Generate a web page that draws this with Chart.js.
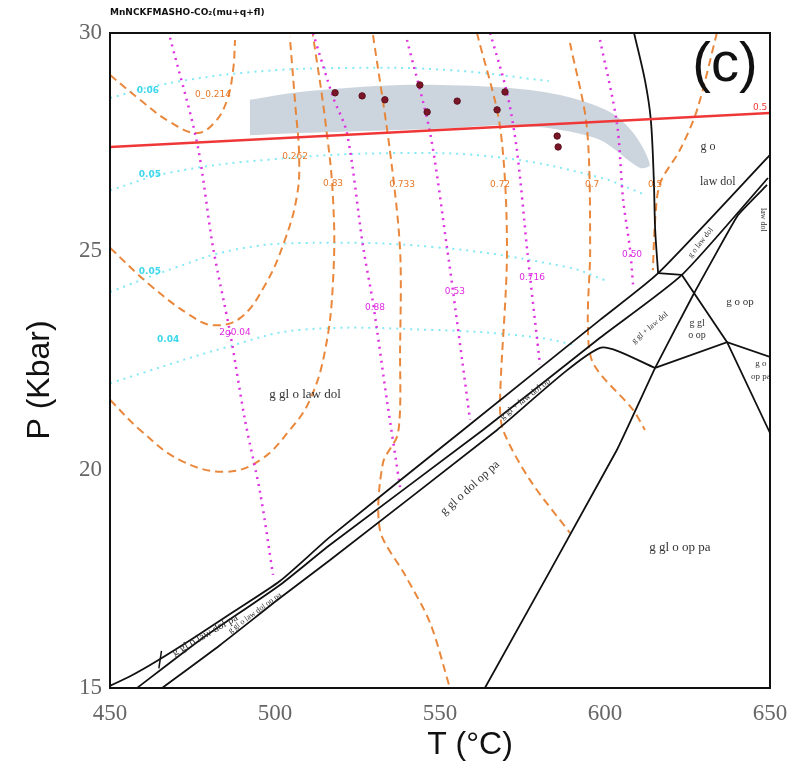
<!DOCTYPE html>
<html>
<head>
<meta charset="utf-8">
<script src="https://cdn.jsdelivr.net/npm/chart.js@4.4.1/dist/chart.umd.min.js"></script>
<style>
  html, body { margin: 0; padding: 0; background: #fff; }
  #wrap { width: 792px; height: 771px; }
</style>
</head>
<body>
<div id="wrap"><canvas id="pseudo"></canvas></div>
<script>
// axis ticks
const tempTicks = [450, 500, 550, 600, 650];
const presTicks = [15, 20, 25, 30];

// phase field boundaries [T degC, P kbar]
const bndVert   = [[608.8,30],[612.1,28.92],[613.9,28.0],[614.8,26.63],[615.2,25.5],[616.1,24.5]];
const bndUpper  = [[450,15.05],[456.1,15.27],[464.2,15.62],[475.8,16.17],[487.3,16.74],[501.5,17.45],[516.7,18.46],[557.0,20.91],[598.5,23.43],[616.1,24.5],[650,27.21]];
const bndMid    = [[458.2,15.0],[477.3,16.1],[501.5,17.36],[516.7,18.28],[563.0,20.91],[598.5,23.02],[623.3,24.46],[649.4,26.68]];
const bndLower  = [[465.8,15.0],[483.3,15.98],[501.5,17.06],[516.7,17.93],[567.3,20.91],[598.5,22.79],[615.2,22.33]];
const bndStep   = [[616.1,24.5],[623.3,24.46]];
const bndOp     = [[623.3,24.46],[637.0,22.92],[650,20.84]];
const bndNarrow = [[649.1,26.52],[640.3,25.83],[626.7,24.0],[615.2,22.33],[603.6,20.45],[563.6,15.0]];
const bndGl     = [[615.2,22.33],[637.0,22.92],[650,22.58]];
const bndTick   = [[464.8,15.45],[465.6,15.85]];

// orange dashed isopleths
const isoA = [[450,29.04],[459.1,28.47],[468.2,27.96],[476.4,27.71],[481.8,27.96],[485.5,28.47],[487.3,29.15],[487.9,29.84]];
const isoB = [[450,25.08],[462.1,24.23],[474.2,23.54],[481.2,23.31],[489.4,23.47],[497.0,24.23],[503.0,25.26],[506.7,26.29],[507.3,27.2],[506.2,28.3],[504.5,29.91]];
const isoC = [[450,21.6],[459.1,20.91],[471.2,20.22],[484.8,19.95],[495.5,20.22],[504.5,20.91],[510.6,21.6],[515.2,22.74],[517.6,24.34],[517.6,26.18],[515.2,28.01],[511.5,29.95]];
const isoD = [[529.7,29.95],[534.8,27.32],[537.9,25.04],[537.9,22.74],[537.3,20.84],[532.7,20.15],[531.8,18.62],[539.4,17.59],[547.0,16.49],[553.0,15.0]];
const isoE = [[561.2,30],[568.2,27.85],[570.3,25.04],[568.2,21.6],[569.1,20.91],[577.3,19.76],[589.4,18.55]];
const isoF = [[589.4,29.77],[594.5,27.85],[595.5,25.04],[594.8,23.36],[596.4,22.44],[608.5,21.37],[612.1,20.91]];
const isoG = [[633.9,30],[627.9,28.24],[622.7,27.32],[616.7,26.56],[615.2,25.72],[614.5,24.57]];

// magenta dotted isopleths
const mgA = [[468.2,29.89],[476.4,27.48],[481.2,25.10],[486.4,23.13],[490.9,21.14],[495.5,19.47],[499.4,17.59]];
const mgB = [[511.5,30],[517.6,28.53],[521.8,27.71],[526.7,25.10],[529.7,23.82],[533.9,21.6],[537.9,19.6]];
const mgC = [[540.0,29.84],[547.0,27.71],[552.1,25.10],[553.9,24.11],[556.7,22.51],[559.1,21.14]];
const mgD = [[565.2,30],[570.3,28.63],[573.3,27.32],[576.4,25.04],[577.3,24.41],[580.3,22.4]];
const mgE = [[598.5,29.84],[603.6,27.94],[605.5,26.18],[607.6,25.04],[608.5,24.23]];

// cyan dotted isopleths
const cyA = [[450,28.51],[465,28.81],[492,29.1],[522,29.2],[553,29.15],[583,28.9]];
const cyB = [[450,26.4],[468,26.8],[498,27.1],[537,27.25],[568,27.15],[598,26.7],[612,26.3]];
const cyC = [[450,24.07],[470.3,24.64],[487.3,25.03],[507.6,25.19],[547.9,25.10],[588.5,24.64],[600,24.34]];
const cyD = [[450,21.98],[485.5,22.81],[507.6,23.2],[547.9,23.2],[578.2,23.04],[590.9,22.86]];

// red T-P line
const redLine = [[450,27.39],[650,28.17]];

// grey P-T window
const greyBand = [[492.4,28.47],[507.6,28.65],[537.9,28.81],[568.2,28.76],[586.4,28.58],[601.5,28.19],[609.1,27.66],[613.6,26.98],
                  [610.6,26.91],[598.5,27.55],[583.3,27.82],[568.2,27.89],[553,27.82],[537.9,27.78],[507.6,27.71],[492.4,27.66]];

// measured P-T points
const sampleT = [518.2, 526.4, 533.3, 543.9, 546.1, 555.2, 567.3, 569.7, 585.5, 585.8];
const sampleP = [28.63, 28.56, 28.47, 28.81, 28.19, 28.44, 28.24, 28.65, 27.64, 27.39];

// labels: text, T, P, rotation, size
const fieldLabels = [
  ['g o', 631.2, 27.39, 0, 12], ['law dol', 634.2, 26.59, 0, 12],
  ['g gl o law dol', 509.1, 21.71, 0, 13],
  ['g gl o dol op pa', 559.1, 19.58, -42, 12],
  ['g gl o op pa', 622.7, 18.21, 0, 13],
  ['g o op', 640.9, 23.84, 0, 11],
  ['g gl', 627.9, 23.36, 0, 10], ['o op', 627.9, 23.08, 0, 10],
  ['g o', 647.2, 22.42, 0, 9], ['op pa', 647.2, 22.14, 0, 9],
  ['g gl o law dol pa', 478.8, 16.21, -30, 11],
  ['g gl o law dol op pa', 493.9, 16.72, -36, 8],
  ['g gl + law dol op', 575.8, 21.62, -38, 9],
  ['g gl + law dol', 613.6, 23.25, -40, 8],
  ['g o law dol', 629.0, 25.2, -52, 8],
  ['law dol', 648.0, 25.72, 90, 8]
];
const orangeLabels = [['0_0.214', 481.2, 28.58], ['0.262', 506.1, 27.16], ['0.83', 517.6, 26.56], ['0.733', 538.5, 26.52], ['0.72', 568.2, 26.52], ['0.7', 596.1, 26.52], ['0.5', 615.2, 26.52]];
const magentaLabels = [['2g0.04', 487.9, 23.13], ['0.88', 530.3, 23.70], ['0.53', 554.5, 24.07], ['0.716', 577.9, 24.39], ['0.50', 608.2, 24.92]];
const cyanLabels = [['0.06', 461.5, 28.69], ['0.05', 462.1, 26.75], ['0.05', 462.1, 24.53], ['0.04', 467.6, 22.97]];

const pts = arr => arr.map(p => ({ x: p[0], y: p[1] }));

function curve(arr, color, width, dash, tension, order) {
  return { data: pts(arr), showLine: true, borderColor: color, borderWidth: width, borderDash: dash,
           tension: tension, pointRadius: 0, fill: false, order: order };
}

const ORANGE = 'rgba(232,130,50,0.95)';
const MAGENTA = 'rgb(222,50,225)';
const CYAN = 'rgba(90,225,240,0.75)';
const BLACK = '#111';

const datasets = [
  { data: pts(greyBand), showLine: true, borderWidth: 0, borderColor: 'rgba(0,0,0,0)',
    backgroundColor: 'rgba(170,185,200,0.6)', fill: 'shape', pointRadius: 0, tension: 0.3, order: 20 },
  curve(cyA, CYAN, 2, [2, 5], 0.4, 15), curve(cyB, CYAN, 2, [2, 5], 0.4, 15),
  curve(cyC, CYAN, 2, [2, 5], 0.4, 15), curve(cyD, CYAN, 2, [2, 5], 0.4, 15),
  curve(isoA, ORANGE, 2, [8, 5], 0.4, 10), curve(isoB, ORANGE, 2, [8, 5], 0.4, 10),
  curve(isoC, ORANGE, 2, [8, 5], 0.4, 10), curve(isoD, ORANGE, 2, [8, 5], 0.3, 10),
  curve(isoE, ORANGE, 2, [8, 5], 0.3, 10), curve(isoF, ORANGE, 2, [8, 5], 0.3, 10),
  curve(isoG, ORANGE, 2, [8, 5], 0.3, 10),
  curve(mgA, MAGENTA, 2.5, [2, 5], 0.3, 9), curve(mgB, MAGENTA, 2.5, [2, 5], 0.3, 9),
  curve(mgC, MAGENTA, 2.5, [2, 5], 0.3, 9), curve(mgD, MAGENTA, 2.5, [2, 5], 0.3, 9),
  curve(mgE, MAGENTA, 2.5, [2, 5], 0.3, 9),
  curve(bndVert, BLACK, 1.8, [], 0.3, 5), curve(bndUpper, BLACK, 1.8, [], 0.2, 5),
  curve(bndMid, BLACK, 1.8, [], 0.2, 5), curve(bndLower, BLACK, 1.8, [], 0.2, 5),
  curve(bndStep, BLACK, 1.8, [], 0, 5), curve(bndOp, BLACK, 1.8, [], 0, 5),
  curve(bndNarrow, BLACK, 1.8, [], 0.1, 5), curve(bndGl, BLACK, 1.8, [], 0, 5),
  curve(bndTick, BLACK, 1.5, [], 0, 5),
  curve(redLine, 'rgb(240,55,55)', 2.5, [], 0, 3),
  { data: sampleT.map((t, i) => ({ x: t, y: sampleP[i] })), showLine: false, pointRadius: 3.2,
    pointBackgroundColor: '#7a1628', pointBorderColor: '#5a0f1c', order: 1 }
];

const annotate = {
  id: 'annotate',
  afterDatasetsDraw(chart) {
    const { ctx, chartArea: a, scales: { x, y } } = chart;
    ctx.save();
    const put = (text, t, p, rot, font, color) => {
      ctx.save();
      ctx.translate(x.getPixelForValue(t), y.getPixelForValue(p));
      ctx.rotate(rot * Math.PI / 180);
      ctx.font = font; ctx.fillStyle = color;
      ctx.textAlign = 'center'; ctx.textBaseline = 'middle';
      ctx.fillText(text, 0, 0);
      ctx.restore();
    };
    fieldLabels.forEach(l => put(l[0], l[1], l[2], l[3], l[4] + 'px "Liberation Serif"', '#333'));
    orangeLabels.forEach(l => put(l[0], l[1], l[2], 0, '9px "DejaVu Sans"', 'rgb(230,120,40)'));
    magentaLabels.forEach(l => put(l[0], l[1], l[2], 0, '9px "DejaVu Sans"', 'rgb(222,40,225)'));
    cyanLabels.forEach(l => put(l[0], l[1], l[2], 0, 'bold 9px "DejaVu Sans"', 'rgb(60,215,235)'));
    put('0.5', 647, 28.3, 0, '9px "DejaVu Sans"', 'rgb(240,55,55)');

    // frame
    ctx.strokeStyle = BLACK; ctx.lineWidth = 2;
    ctx.strokeRect(a.left, a.top, a.right - a.left, a.bottom - a.top);

    // panel letter and headings
    ctx.fillStyle = '#111'; ctx.textAlign = 'center'; ctx.textBaseline = 'middle';
    ctx.font = '56px "Liberation Sans"';
    ctx.fillText('(c)', 725, 66);
    ctx.textAlign = 'left';
    ctx.font = 'bold 9px "DejaVu Sans"';
    ctx.fillText('MnNCKFMASHO-CO\u2082(mu+q+fl)', 110, 13);
    ctx.font = '32px "Liberation Sans"'; ctx.textAlign = 'center';
    ctx.fillText('T (\u00B0C)', 470, 745);
    ctx.save();
    ctx.translate(40, 380); ctx.rotate(-Math.PI / 2);
    ctx.fillText('P (Kbar)', 0, 0);
    ctx.restore();
    ctx.restore();
  }
};

new Chart(document.getElementById('pseudo').getContext('2d'), {
  type: 'scatter',
  data: { datasets: datasets },
  options: {
    responsive: true,
    maintainAspectRatio: false,
    animation: false,
    layout: { padding: { left: 0, top: 33, right: 22, bottom: 0 } },
    plugins: { legend: { display: false }, tooltip: { enabled: false } },
    scales: {
      x: {
        type: 'linear', min: tempTicks[0], max: tempTicks[tempTicks.length - 1],
        afterBuildTicks: s => { s.ticks = tempTicks.map(v => ({ value: v })); },
        afterFit: s => { s.height = 83; s.paddingLeft = 0; s.paddingRight = 0; },
        grid: { display: false, drawTicks: false }, border: { display: false },
        ticks: { padding: 12, color: '#666', font: { family: '"Liberation Serif"', size: 23 } }
      },
      y: {
        type: 'linear', min: presTicks[0], max: presTicks[presTicks.length - 1],
        afterBuildTicks: s => { s.ticks = presTicks.map(v => ({ value: v })); },
        afterFit: s => { s.width = 110; s.paddingTop = 0; s.paddingBottom = 0; },
        grid: { display: false, drawTicks: false }, border: { display: false },
        ticks: { padding: 8, color: '#666', font: { family: '"Liberation Serif"', size: 23 } }
      }
    }
  },
  plugins: [annotate]
});
</script>
</body>
</html>
